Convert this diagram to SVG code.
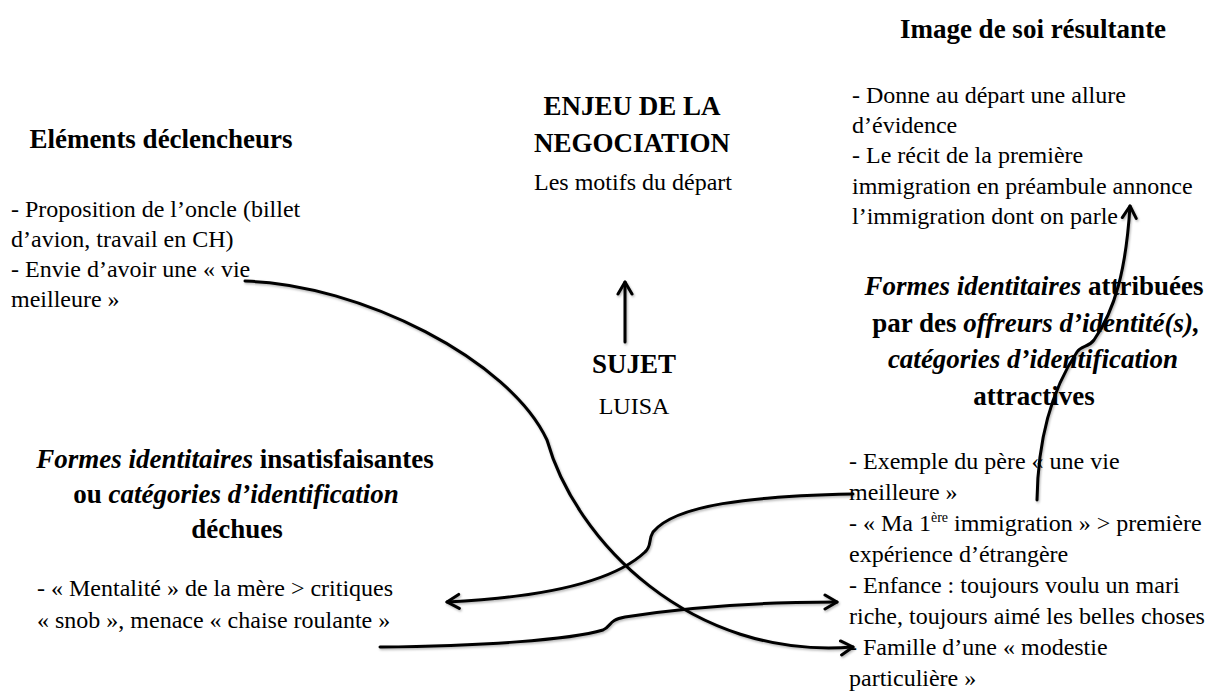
<svg xmlns="http://www.w3.org/2000/svg" width="1206" height="691" viewBox="0 0 1206 691">
<style>
text{font-family:"Liberation Serif","Times New Roman",serif;fill:#000}
.h{font-size:27px;font-weight:bold;text-anchor:middle}
.b{font-size:24px}
.c{font-size:24px;text-anchor:middle}
.i{font-style:italic}
.sup{font-size:14px}
.ln{fill:none;stroke:#000;stroke-width:3;stroke-linecap:round}
</style>
<defs>
<filter id="sh" x="-5%" y="-5%" width="110%" height="110%">
<feDropShadow dx="1" dy="1.5" stdDeviation="1" flood-color="#000" flood-opacity="0.3"/>
</filter>
<marker id="ah" viewBox="-14 -9 16 18" markerWidth="16" markerHeight="18" refX="0" refY="0" orient="auto" markerUnits="userSpaceOnUse">
<path d="M-12,-7 L0,0 L-12,7" fill="none" stroke="#000" stroke-width="3" stroke-linecap="round" stroke-linejoin="round"/>
</marker>
</defs>
<rect width="1206" height="691" fill="#fff"/>

<g id="elements-declencheurs">
<text class="h" x="161" y="148">Eléments déclencheurs</text>
<text class="b" x="11" y="217">- Proposition de l’oncle (billet</text>
<text class="b" x="11" y="247">d’avion, travail en CH)</text>
<text class="b" x="11" y="277">- Envie d’avoir une « vie</text>
<text class="b" x="11" y="307">meilleure »</text>
</g>

<g id="enjeu">
<text class="h" x="632" y="115">ENJEU DE LA</text>
<text class="h" x="632" y="152">NEGOCIATION</text>
<text class="c" x="633" y="190">Les motifs du départ</text>
</g>

<g id="sujet">
<text class="h" x="634" y="373">SUJET</text>
<text class="c" x="634" y="414">LUISA</text>
</g>

<g id="image-de-soi">
<text class="h" x="1033" y="38">Image de soi résultante</text>
<text class="b" x="852" y="103">- Donne au départ une allure</text>
<text class="b" x="852" y="133">d’évidence</text>
<text class="b" x="852" y="163">- Le récit de la première</text>
<text class="b" x="852" y="194">immigration en préambule annonce</text>
<text class="b" x="852" y="224">l’immigration dont on parle</text>
</g>

<g id="formes-attribuees">
<text class="h" x="1034" y="295"><tspan class="i">Formes identitaires</tspan> attribuées</text>
<text class="h" x="1036" y="332">par des <tspan class="i">offreurs d’identité(s),</tspan></text>
<text class="h" x="1033" y="368"><tspan class="i">catégories d’identification</tspan></text>
<text class="h" x="1034" y="405">attractives</text>
<text class="b" x="849" y="469">- Exemple du père « une vie</text>
<text class="b" x="849" y="500">meilleure »</text>
<text class="b" x="849" y="531">- « Ma 1<tspan class="sup" dy="-9">ère</tspan><tspan dy="9"> immigration » &gt; première</tspan></text>
<text class="b" x="849" y="562">expérience d’étrangère</text>
<text class="b" x="849" y="593">- Enfance : toujours voulu un mari</text>
<text class="b" x="849" y="624">riche, toujours aimé les belles choses</text>
<text class="b" x="849" y="655">- Famille d’une « modestie</text>
<text class="b" x="849" y="686">particulière »</text>
</g>

<g id="formes-insatisfaisantes">
<text class="h" x="235" y="468"><tspan class="i">Formes identitaires</tspan> insatisfaisantes</text>
<text class="h" x="236" y="503">ou <tspan class="i">catégories d’identification</tspan></text>
<text class="h" x="237" y="538">déchues</text>
<text class="b" x="37" y="596">- « Mentalité » de la mère &gt; critiques</text>
<text class="b" x="37" y="628">« snob », menace « chaise roulante »</text>
</g>

<g id="connectors" filter="url(#sh)">
<path class="ln" d="M625,342 L625,282" marker-end="url(#ah)"/>
<path class="ln" d="M245,281 C360,284 510,360 547,440 C575,540 690,660 853,647" marker-end="url(#ah)"/>
<path class="ln" d="M1037,500 C1038,430 1055,385 1077,352 C1082,345 1088,348 1094,340 C1115,310 1126,270 1130,206" marker-end="url(#ah)"/>
<path class="ln" d="M853,494 C750,496 675,505 653,532 C648,540 652,546 645,552 C610,585 530,598 447,602" marker-end="url(#ah)"/>
<path class="ln" d="M380,647 C480,646 570,640 603,630 C612,626 608,620 625,617 C700,605 780,602 837,602" marker-end="url(#ah)"/>
</g>
</svg>
